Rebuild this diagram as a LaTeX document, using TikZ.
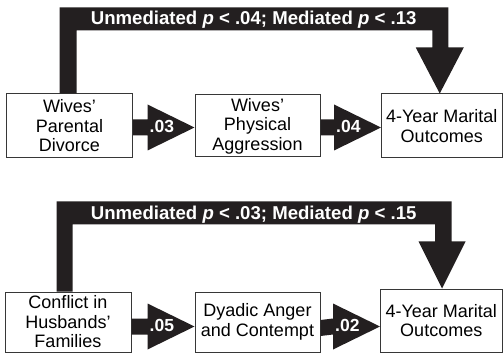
\documentclass[tikz,border=0pt]{standalone}
\usepackage{fontspec}
\setmainfont{Liberation Sans}
\usetikzlibrary{calc}
\definecolor{ink}{RGB}{35,31,32}
\definecolor{rim}{RGB}{55,55,55}
\newcommand\fatarrow[3]{%
  \fill[ink] ($(#1.east)+(0,#3-8)$) -- ($(#2.west)+(-47,#3-8)$) -- ($(#2.west)+(-47,#3-23)$) -- ($(#2.west)+(0,#3)$) -- ($(#2.west)+(-47,#3+23)$) -- ($(#2.west)+(-47,#3+8)$) -- ($(#1.east)+(0,#3+8)$) -- cycle;}
\begin{document}
\begin{tikzpicture}[x=1pt,y=-1pt,
  box/.style={draw=rim,line width=1pt,fill=white,rectangle,inner sep=0pt,align=center,font=\fontsize{18}{19.5}\selectfont},
  lab/.style={text=white,font=\fontsize{17.5}{17.5}\selectfont\bfseries,inner sep=0pt,anchor=base west},
  toplab/.style={text=white,font=\fontsize{18.6}{18.6}\selectfont\bfseries,inner sep=0pt,anchor=base},
]
\fill[white] (0,0) rectangle (503,355);
\useasboundingbox (0,0) rectangle (503,355);

% top diagram
\node[box,minimum width=126pt,minimum height=64pt] (A) at (69.5,126) {Wives’\\Parental\\Divorce};
\node[box,minimum width=125pt,minimum height=62pt] (B) at (257.5,126) {Wives’\\Physical\\Aggression};
\node[box,minimum width=120.5pt,minimum height=64pt] (C) at (441.75,126) {4-Year Marital\\Outcomes};

\fatarrow{A}{B}{1.5}
\fatarrow{B}{C}{1.5}
\node[lab] (l1) at ($(B.west)+(-45,6.5)$) {.03};
\node[lab] (l2) at ($(C.west)+(-45,6.5)$) {.04};

\coordinate (ct) at ($(C.north)+(-2,0)$);
\fill[ink] ($(A.north west)+(53.5,0)$) |- ($(ct)+(8.5,-86)$) -- ($(ct)+(8.5,-46)$) -- ($(ct)+(24,-46)$) -- (ct) -- ($(ct)+(-24,-46)$) -- ($(ct)+(-7.5,-46)$) -- ($(ct)+(-7.5,-63)$) -- ($(A.north west)+(70.5,-63)$) -- ($(A.north west)+(70.5,0)$) -- cycle;
\node[toplab] (u1) at (253.7,25) {Unmediated \textit{p} < .04; Mediated \textit{p} < .13};

% bottom diagram
\node[box,minimum width=126pt,minimum height=60pt] (D) at (68,322) {Conflict in\\Husbands’\\Families};
\node[box,minimum width=125pt,minimum height=60pt] (E) at (257.5,322) {Dyadic Anger\\and Contempt};
\node[box,minimum width=121.5pt,minimum height=63pt] (F) at (441.25,320.5) {4-Year Marital\\Outcomes};

\fatarrow{D}{E}{4.5}
\fatarrow{E}{F}{6}
\node[lab] (l3) at ($(E.west)+(-45,9.5)$) {.05};
\node[lab] (l4) at ($(F.west)+(-45,11)$) {.02};

\coordinate (ft) at ($(F.north)+(0.75,0)$);
\fill[ink] ($(D.north west)+(52,0)$) |- ($(ft)+(9.5,-87)$) -- ($(ft)+(9.5,-47)$) -- ($(ft)+(23.5,-47)$) -- (ft) -- ($(ft)+(-23.5,-47)$) -- ($(ft)+(-7,-47)$) -- ($(ft)+(-7,-64)$) -- ($(D.north west)+(68,-67)$) -- ($(D.north west)+(68,0)$) -- cycle;
\node[toplab] (u2) at (253.7,220) {Unmediated \textit{p} < .03; Mediated \textit{p} < .15};
\end{tikzpicture}
\end{document}
